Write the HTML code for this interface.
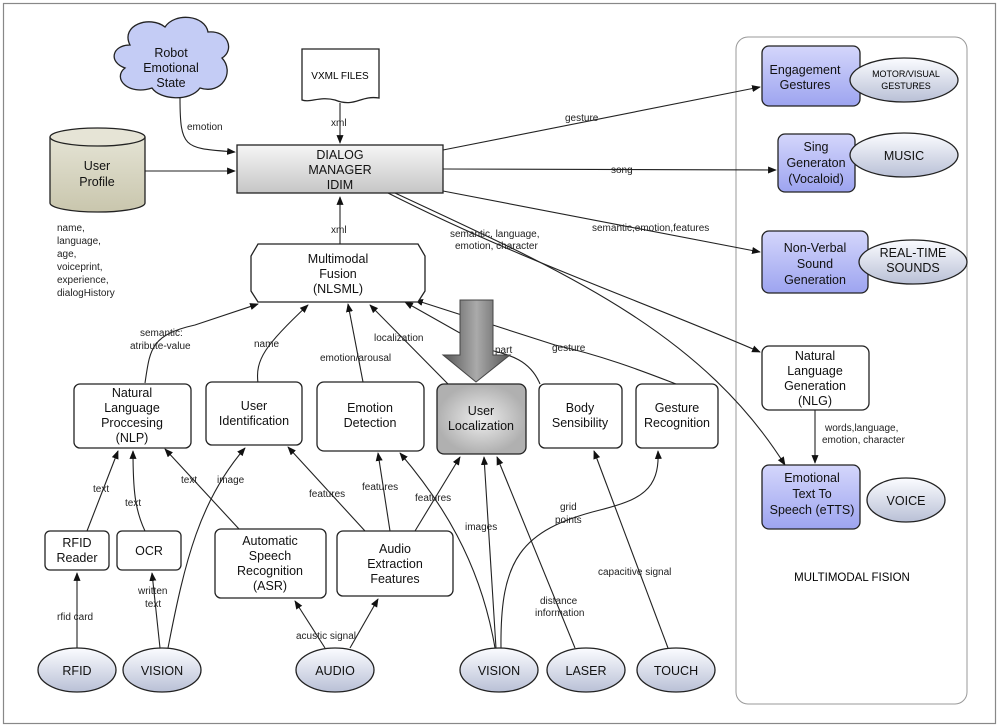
<!DOCTYPE html>
<html><head><meta charset="utf-8"><style>
body{margin:0;background:#fff}
svg{display:block;font-family:"Liberation Sans",sans-serif}
.b{fill:#fff;stroke:#222;stroke-width:1.3}
.l{fill:none;stroke:#222;stroke-width:1.1}
.t{font-size:12.5px;text-anchor:middle;fill:#111}
.s{font-size:10px;fill:#222}
.e{fill:url(#eg);stroke:#222;stroke-width:1.3}
.bl{fill:url(#bg);stroke:#222;stroke-width:1.3}
</style></head><body>
<svg width="1000" height="727" viewBox="0 0 1000 727">
<defs>
<marker id="a" viewBox="0 0 10 10" refX="9" refY="5" markerWidth="8" markerHeight="8" orient="auto-start-reverse"><path d="M0,1L10,5L0,9z" fill="#111"/></marker>
<linearGradient id="eg" x1="0" y1="0" x2="0" y2="1"><stop offset="0" stop-color="#fbfcff"/><stop offset="1" stop-color="#b9c0d6"/></linearGradient>
<linearGradient id="bg" x1="0" y1="0" x2="0" y2="1"><stop offset="0" stop-color="#d4d6fb"/><stop offset="1" stop-color="#9da4f0"/></linearGradient>
<linearGradient id="dg" x1="0" y1="0" x2="0" y2="1"><stop offset="0" stop-color="#f6f6f6"/><stop offset="1" stop-color="#c6c6c6"/></linearGradient>
<radialGradient id="ug"><stop offset="0" stop-color="#eeeeee"/><stop offset="1" stop-color="#b0b0b0"/></radialGradient>
<linearGradient id="ag" x1="0" y1="0" x2="1" y2="0"><stop offset="0" stop-color="#555"/><stop offset=".5" stop-color="#aaa"/><stop offset="1" stop-color="#555"/></linearGradient>
<linearGradient id="cg" x1="0" y1="0" x2="0" y2="1"><stop offset="0" stop-color="#e4e3d4"/><stop offset="1" stop-color="#c9c6ad"/></linearGradient>
</defs>
<rect x="3.5" y="3.5" width="992" height="720" fill="#fff" stroke="#888" stroke-width="1.2"/>
<rect x="736" y="37" width="231" height="667" rx="12" fill="#fff" stroke="#999"/>

<!-- connectors -->
<g class="l">
<path d="M180,98 C180,150 185,148 235,152" marker-end="url(#a)"/>
<path d="M145,171 L235,171" marker-end="url(#a)"/>
<path d="M340,103 L340,143" marker-end="url(#a)"/>
<path d="M340,244 L340,197" marker-end="url(#a)"/>
<path d="M443,150 L760,87" marker-end="url(#a)"/>
<path d="M443,169 L776,170" marker-end="url(#a)"/>
<path d="M443,191 L760,252" marker-end="url(#a)"/>
<path d="M388,193 C520,260 640,300 760,352" marker-end="url(#a)"/>
<path d="M395,193 C560,270 700,330 785,465" marker-end="url(#a)"/>
<path d="M145,383 C150,350 150,335 195,325 L258,304" marker-end="url(#a)"/>
<path d="M258,383 C255,360 265,345 308,305" marker-end="url(#a)"/>
<path d="M363,382 L348,304" marker-end="url(#a)"/>
<path d="M448,384 L370,305" marker-end="url(#a)"/>
<path d="M540,384 C530,360 510,355 490,350 L405,302" marker-end="url(#a)"/>
<path d="M676,384 C640,370 600,355 555,345 L415,300" marker-end="url(#a)"/>
<path d="M87,531 L118,451" marker-end="url(#a)"/>
<path d="M145,531 C135,510 133,490 133,451" marker-end="url(#a)"/>
<path d="M239,529 L165,449" marker-end="url(#a)"/>
<path d="M168,648 C185,560 200,500 245,448" marker-end="url(#a)"/>
<path d="M365,531 L288,447" marker-end="url(#a)"/>
<path d="M390,531 L378,453" marker-end="url(#a)"/>
<path d="M415,531 L460,457" marker-end="url(#a)"/>
<path d="M77,648 L77,573" marker-end="url(#a)"/>
<path d="M160,648 L152,573" marker-end="url(#a)"/>
<path d="M325,648 L295,601" marker-end="url(#a)"/>
<path d="M350,648 L378,599" marker-end="url(#a)"/>
<path d="M495,648 C480,560 440,500 400,453" marker-end="url(#a)"/>
<path d="M496,648 L484,457" marker-end="url(#a)"/>
<path d="M575,648 L497,457" marker-end="url(#a)"/>
<path d="M501,648 C500,560 520,530 600,510 C640,500 660,490 658,451" marker-end="url(#a)"/>
<path d="M668,648 L594,451" marker-end="url(#a)"/>
<path d="M815,410 L815,463" marker-end="url(#a)"/>
</g>

<!-- big arrow -->
<path d="M460,300 L493,300 L493,355 L510,355 L476,382 L443,355 L460,355 Z" fill="url(#ag)" stroke="#444"/>

<!-- labels -->
<g class="s">
<text x="187" y="130">emotion</text>
<text x="331" y="126">xml</text>
<text x="331" y="233">xml</text>
<text x="565" y="121">gesture</text>
<text x="611" y="173">song</text>
<text x="592" y="231">semantic,emotion,features</text>
<text x="450" y="237">semantic, language,</text>
<text x="455" y="249">emotion, character</text>
<text x="57" y="231">name,</text><text x="57" y="244">language,</text><text x="57" y="257">age,</text><text x="57" y="270">voiceprint,</text><text x="57" y="283">experience,</text><text x="57" y="296">dialogHistory</text>
<text x="140" y="336">semantic:</text><text x="130" y="349">atribute-value</text>
<text x="254" y="347">name</text>
<text x="320" y="361">emotion/arousal</text>
<text x="374" y="341">localization</text>
<text x="495" y="353">part</text>
<text x="552" y="351">gesture</text>
<text x="93" y="492">text</text>
<text x="125" y="506">text</text>
<text x="181" y="483">text</text>
<text x="217" y="483">image</text>
<text x="309" y="497">features</text>
<text x="362" y="490">features</text>
<text x="415" y="501">features</text>
<text x="465" y="530">images</text>
<text x="560" y="510">grid</text><text x="555" y="523">points</text>
<text x="598" y="575">capacitive signal</text>
<text x="540" y="604">distance</text><text x="535" y="616">information</text>
<text x="57" y="620">rfid card</text>
<text x="138" y="594">written</text><text x="145" y="607">text</text>
<text x="296" y="639">acustic signal</text>
<text x="825" y="431">words,language,</text><text x="822" y="443">emotion, character</text>
</g>

<!-- cloud -->
<path d="M130,45 C120,25 150,15 165,27 C175,12 205,15 208,32 C228,30 235,50 222,58 C235,72 222,95 200,88 C190,102 160,100 152,88 C128,96 112,78 125,68 C108,62 112,45 130,45 Z" fill="#c4ccf5" stroke="#222" stroke-width="1.3"/>
<text class="t" x="171" y="57">Robot</text><text class="t" x="171" y="72">Emotional</text><text class="t" x="171" y="87">State</text>

<!-- vxml -->
<path d="M302,49 L379,49 L379,98 C360,95 355,108 335,100 C320,96 310,103 302,100 Z" class="b"/>
<text x="340" y="79" style="font-size:10px;text-anchor:middle">VXML FILES</text>

<!-- cylinder -->
<path d="M50,137 L50,203 A47.5,9 0 0 0 145,203 L145,137" fill="url(#cg)" stroke="#222" stroke-width="1.3"/>
<ellipse cx="97.5" cy="137" rx="47.5" ry="9" fill="#e6e4d6" stroke="#222" stroke-width="1.3"/>
<text class="t" x="97" y="170">User</text><text class="t" x="97" y="186">Profile</text>

<!-- dialog -->
<rect x="237" y="145" width="206" height="48" fill="url(#dg)" stroke="#222" stroke-width="1.3"/>
<text class="t" x="340" y="159">DIALOG</text><text class="t" x="340" y="174">MANAGER</text><text class="t" x="340" y="189">IDIM</text>

<!-- fusion -->
<path d="M258,244 L418,244 L425,256 L425,291 L418,302 L258,302 L251,291 L251,256 Z" class="b"/>
<text class="t" x="338" y="263">Multimodal</text><text class="t" x="338" y="278">Fusion</text><text class="t" x="338" y="293">(NLSML)</text>

<!-- mid boxes -->
<rect x="74" y="384" width="117" height="64" rx="6" class="b"/>
<text class="t" x="132" y="397">Natural</text><text class="t" x="132" y="412">Language</text><text class="t" x="132" y="427">Proccesing</text><text class="t" x="132" y="442">(NLP)</text>
<rect x="206" y="382" width="96" height="63" rx="6" class="b"/>
<text class="t" x="254" y="410">User</text><text class="t" x="254" y="425">Identification</text>
<rect x="317" y="382" width="107" height="69" rx="7" class="b"/>
<text class="t" x="370" y="412">Emotion</text><text class="t" x="370" y="427">Detection</text>
<rect x="437" y="384" width="89" height="70" rx="7" fill="url(#ug)" stroke="#222" stroke-width="1.3"/>
<text class="t" x="481" y="415">User</text><text class="t" x="481" y="430">Localization</text>
<rect x="539" y="384" width="83" height="64" rx="6" class="b"/>
<text class="t" x="580" y="412">Body</text><text class="t" x="580" y="427">Sensibility</text>
<rect x="636" y="384" width="82" height="64" rx="6" class="b"/>
<text class="t" x="677" y="412">Gesture</text><text class="t" x="677" y="427">Recognition</text>

<rect x="45" y="531" width="64" height="39" rx="5" class="b"/>
<text class="t" x="77" y="547">RFID</text><text class="t" x="77" y="562">Reader</text>
<rect x="117" y="531" width="64" height="39" rx="5" class="b"/>
<text class="t" x="149" y="555">OCR</text>
<rect x="215" y="529" width="111" height="69" rx="6" class="b"/>
<text class="t" x="270" y="545">Automatic</text><text class="t" x="270" y="560">Speech</text><text class="t" x="270" y="575">Recognition</text><text class="t" x="270" y="590">(ASR)</text>
<rect x="337" y="531" width="116" height="65" rx="6" class="b"/>
<text class="t" x="395" y="553">Audio</text><text class="t" x="395" y="568">Extraction</text><text class="t" x="395" y="583">Features</text>

<!-- sources -->
<g>
<ellipse cx="77" cy="670" rx="39" ry="22" class="e"/><text class="t" x="77" y="675">RFID</text>
<ellipse cx="162" cy="670" rx="39" ry="22" class="e"/><text class="t" x="162" y="675">VISION</text>
<ellipse cx="335" cy="670" rx="39" ry="22" class="e"/><text class="t" x="335" y="675">AUDIO</text>
<ellipse cx="499" cy="670" rx="39" ry="22" class="e"/><text class="t" x="499" y="675">VISION</text>
<ellipse cx="586" cy="670" rx="39" ry="22" class="e"/><text class="t" x="586" y="675">LASER</text>
<ellipse cx="676" cy="670" rx="39" ry="22" class="e"/><text class="t" x="676" y="675">TOUCH</text>
</g>

<!-- right panel -->
<rect x="762" y="46" width="98" height="60" rx="7" class="bl"/>
<text class="t" x="805" y="74">Engagement</text><text class="t" x="805" y="89">Gestures</text>
<ellipse cx="904" cy="80" rx="54" ry="22" class="e"/>
<text x="906" y="77" style="font-size:9px;text-anchor:middle">MOTOR/VISUAL</text><text x="906" y="89" style="font-size:9px;text-anchor:middle">GESTURES</text>
<rect x="778" y="134" width="77" height="58" rx="7" class="bl"/>
<text class="t" x="816" y="151">Sing</text><text class="t" x="816" y="167">Generaton</text><text class="t" x="816" y="183">(Vocaloid)</text>
<ellipse cx="904" cy="155" rx="54" ry="22" class="e"/><text class="t" x="904" y="160">MUSIC</text>
<rect x="762" y="231" width="106" height="62" rx="7" class="bl"/>
<text class="t" x="815" y="252">Non-Verbal</text><text class="t" x="815" y="268">Sound</text><text class="t" x="815" y="284">Generation</text>
<ellipse cx="913" cy="262" rx="54" ry="22" class="e"/><text class="t" x="913" y="257">REAL-TIME</text><text class="t" x="913" y="272">SOUNDS</text>
<rect x="762" y="346" width="107" height="64" rx="7" class="b"/>
<text class="t" x="815" y="360">Natural</text><text class="t" x="815" y="375">Language</text><text class="t" x="815" y="390">Generation</text><text class="t" x="815" y="405">(NLG)</text>
<rect x="762" y="465" width="98" height="64" rx="7" class="bl"/>
<text class="t" x="812" y="482">Emotional</text><text class="t" x="812" y="498">Text To</text><text class="t" x="812" y="514">Speech (eTTS)</text>
<ellipse cx="906" cy="500" rx="39" ry="22" class="e"/><text class="t" x="906" y="505">VOICE</text>
<text x="852" y="581" style="font-size:11.5px;text-anchor:middle">MULTIMODAL FISION</text>
</svg>
</body></html>
